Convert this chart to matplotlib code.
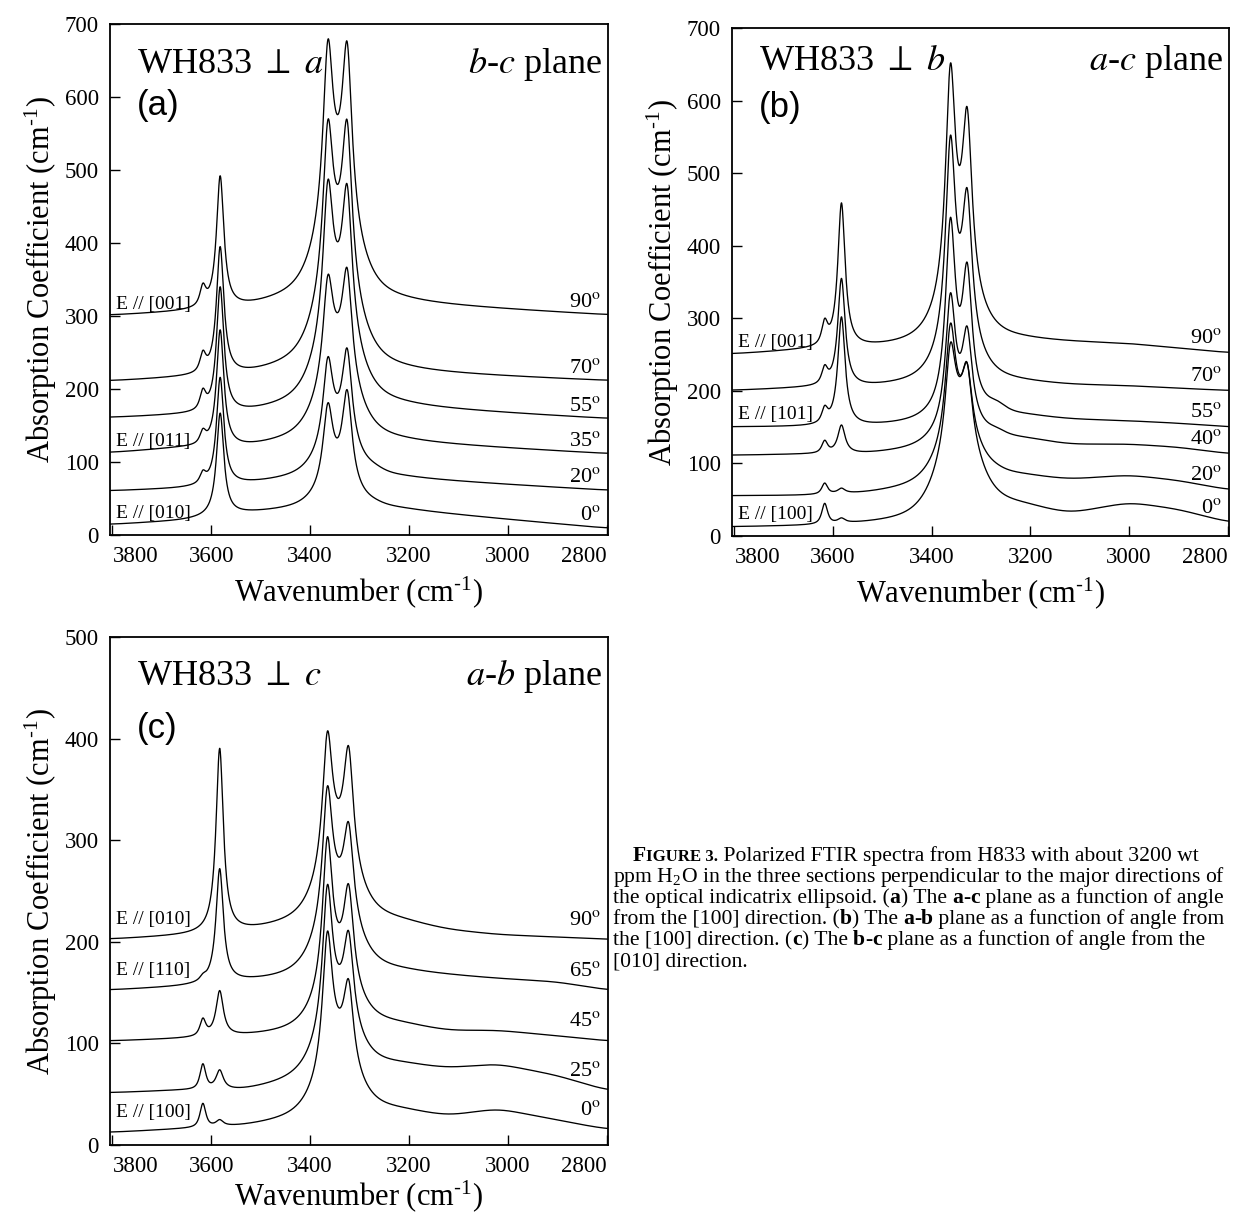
import numpy as np
import matplotlib
matplotlib.use('Agg')
import matplotlib.pyplot as plt

plt.rcParams['font.family'] = ['Liberation Serif', 'DejaVu Serif']
plt.rcParams['mathtext.fontset'] = 'stix'

# ---- data ----
# values at the OH band positions: [3617 shoulder, 3582, doublet 1, doublet 2, dip, 3268 shoulder]
band_w = [7, 9, 12, 12, 45, 22]       # half widths (cm-1)
band_eta = [0.8, 1.0, 1.0, 1.0, 0.7, 0.5]

a_angles = [90, 70, 55, 35, 20, 0]
a_pos = [3617, 3582, 3364, 3325, 3345, 3268]
a_knot_wn = [3805, 3660, 3540, 3450, 3220, 2797]
a_base = [
    [300, 304, 308, 316, 316, 301],
    [210, 214, 216, 223, 222, 211],
    [160, 163, 164, 170, 174, 159],
    [112, 118, 117, 123, 126, 111],
    [60, 63, 68, 73, 77, 61],
    [14, 19, 28, 32, 34, 9],
]
a_peaks = [
    [345, 492, 678, 674, 575, 333],
    [253, 395, 568, 566, 479, 231],
    [201, 340, 486, 479, 401, 190],
    [146, 281, 356, 365, 304, 143],
    [89, 216, 244, 256, 194, 98],
    [30, 167, 181, 199, 133, 50],
]
a_elabels = {0: 'E // [001]', 3: 'E // [011]', 5: 'E // [010]'}

b_angles = [90, 70, 55, 40, 20, 0]
b_pos = [3617, 3583, 3362, 3328, 3345, 3268]
b_knot_wn = [3805, 3660, 3540, 3450, 3220, 3120, 3000, 2900, 2797]
b_base = [
    [250, 255, 257, 260, 268, 266, 264, 258, 252],
    [200, 203, 203, 206, 210, 207, 206, 203, 200],
    [150, 150, 150, 153, 165, 160, 158, 155, 150],
    [111, 112, 112, 116, 133, 125, 126, 122, 113],
    [55, 55, 57, 62, 80, 76, 83, 76, 63],
    [12, 13, 15, 17, 38, 28, 45, 36, 18],
]
b_peaks = [
    [300, 459, 651, 590, 511, 280],
    [236, 355, 552, 479, 419, 229],
    [180, 302, 439, 377, 318, 187],
    [132, 153, 335, 289, 253, 150],
    [73, 66, 293, 238, 224, 100],
    [45, 25, 266, 238, 220, 56],
]
b_elabels = {0: 'E // [001]', 2: 'E // [101]', 5: 'E // [100]'}

c_angles = [90, 65, 45, 25, 0]
c_pos = [3617, 3583, 3365, 3322, 3344, 3268]
c_knot_wn = [3805, 3660, 3540, 3450, 3220, 3120, 3020, 2900, 2797]
c_base = [
    [202, 205, 208, 213, 218, 210, 206, 204, 202],
    [152, 155, 159, 161, 169, 166, 163, 160, 152],
    [102, 104, 106, 108, 117, 111, 112, 107, 102],
    [51, 53, 52, 58, 77, 74, 79, 68, 53],
    [12, 15, 17, 21, 32, 27, 35, 24, 15],
]
c_peaks = [
    [207, 390, 407, 392, 341, 231],
    [169, 272, 353, 317, 284, 179],
    [125, 152, 303, 256, 220, 123],
    [80, 74, 256, 210, 179, 83],
    [41, 25, 210, 162, 136, 34],
]
c_elabels = {0: 'E // [010]', 1: 'E // [110]', 4: 'E // [100]'}

wn = np.linspace(3805, 2797, 3000)
step = (wn[0] - wn[-1]) / (len(wn) - 1)


def profile(x, c, g, eta):
    d = ((np.asarray(x, dtype=float) - c) / g) ** 2
    return eta / (1 + d) + (1 - eta) * np.exp(-np.log(2) * d)


def baseline(knot_wn, base, x):
    kx = np.array(knot_wn[::-1], dtype=float)
    ky = np.array(base[::-1], dtype=float)
    return np.interp(x, kx, ky)


def smooth(y, sigma):
    # soften the corners of the piecewise baseline
    n = int(3 * sigma / step)
    k = np.exp(-0.5 * (np.arange(-n, n + 1) * step / sigma) ** 2)
    k /= k.sum()
    yp = np.concatenate([np.full(n, y[0]), y, np.full(n, y[-1])])
    return np.convolve(yp, k, mode='valid')


def spectrum(knot_wn, base, pos, peaks):
    M = np.array([[profile(p, c, g, e) for c, g, e in zip(pos, band_w, band_eta)] for p in pos])
    rhs = np.array(peaks, dtype=float) - baseline(knot_wn, base, np.array(pos, dtype=float))
    amp = np.linalg.lstsq(M, rhs, rcond=None)[0]
    amp = np.clip(amp, 0, None)
    y = smooth(baseline(knot_wn, base, wn), 25)
    for A, c, g, e in zip(amp, pos, band_w, band_eta):
        y = y + A * profile(wn, c, g, e)
    return y


fig = plt.figure(figsize=(12.4, 12.17), dpi=100)
W, H = 1240.0, 1217.0
unit = 'cm$^{\\mathrm{\u2010}\\mathregular{1}}$'


def panel(box, ymax, angles, knot_wn, base, pos, peaks, elabels, perp, plane, tag,
          txt_y, tag_y, off_l, off_r, xpad):
    l, t, r, b = box
    ax = fig.add_axes([l / W, 1 - b / H, (r - l) / W, (b - t) / H])
    for i, ang in enumerate(angles):
        y = spectrum(knot_wn, base[i], pos, peaks[i])
        ax.plot(wn, y, color='black', lw=0.95)
        ax.annotate('%d$^{\\rm o}$' % ang, xy=(2812, base[i][-1]), xytext=(0, off_r),
                    textcoords='offset pixels', ha='right', va='bottom', fontsize=16)
        if i in elabels:
            ax.annotate(elabels[i], xy=(3792, base[i][0]), xytext=(0, off_l),
                        textcoords='offset pixels', ha='left', va='bottom', fontsize=14)
    ax.set_xlim(3805, 2797)
    ax.set_ylim(0, ymax)
    ax.set_xticks([3800, 3600, 3400, 3200, 3000, 2800])
    ax.set_yticks(range(0, ymax + 1, 100))
    ax.tick_params(direction='in', length=7, width=1, labelsize=16.5, pad=8)
    labs = ax.get_xticklabels()
    labs[0].set_ha('left')
    labs[-1].set_ha('right')
    for s in ax.spines.values():
        s.set_linewidth(1.3)
    ax.set_xlabel('Wavenumber (%s)' % unit, fontsize=22, labelpad=xpad)
    ax.set_ylabel('Absorption Coefficient (%s)' % unit, fontsize=22, labelpad=4)
    ax.text(0.054, txt_y, 'WH833 $\\perp$ $%s$' % perp, transform=ax.transAxes,
            fontsize=26, ha='left', va='baseline')
    ax.text(0.988, txt_y, '$%s$-$%s$ plane' % plane, transform=ax.transAxes,
            fontsize=26, ha='right', va='baseline')
    ax.text(0.054, tag_y, '(%s)' % tag, transform=ax.transAxes, fontsize=25,
            family='Liberation Sans', ha='left', va='baseline')
    return ax


panel((110, 24, 608, 535), 700, a_angles, a_knot_wn, a_base, a_pos, a_peaks, a_elabels,
      'a', ('b', 'c'), 'a', 0.904, 0.822, 3, 3, 5)
panel((732, 28, 1229, 536), 700, b_angles, b_knot_wn, b_base, b_pos, b_peaks, b_elabels,
      'b', ('a', 'c'), 'b', 0.917, 0.825, 4, 5, 5)
panel((110, 637, 608, 1145), 500, c_angles, c_knot_wn, c_base, c_pos, c_peaks, c_elabels,
      'c', ('a', 'b'), 'c', 0.906, 0.801, 12, 10, 1)

# ---- caption ----
renderer = fig.canvas.get_renderer()


def rich_line(x, y, segs):
    for s, bold, size in segs:
        t = fig.text(x / W, 1 - y / H, s, fontsize=size, ha='left', va='baseline',
                     fontweight='bold' if bold else 'normal')
        x += t.get_window_extent(renderer).width


cs = 15.6
rich_line(633, 861, [('F', True, cs), ('IGURE 3.', True, cs - 3.5),
                     (' Polarized FTIR spectra from H833 with about 3200 wt', False, cs)])
rich_line(613, 882, [('ppm H$_\\mathregular{2}$O in the three sections perpendicular to the major directions of',
                      False, cs)])
rich_line(613, 903, [('the optical indicatrix ellipsoid. (', False, cs), ('a', True, cs), (') The ', False, cs),
                     ('a', True, cs), ('-', False, cs), ('c', True, cs),
                     (' plane as a function of angle', False, cs)])
rich_line(613, 924, [('from the [100] direction. (', False, cs), ('b', True, cs), (') The ', False, cs),
                     ('a', True, cs), ('-', False, cs), ('b', True, cs),
                     (' plane as a function of angle from', False, cs)])
rich_line(613, 945, [('the [100] direction. (', False, cs), ('c', True, cs), (') The ', False, cs),
                     ('b', True, cs), ('-', False, cs), ('c', True, cs),
                     (' plane as a function of angle from the', False, cs)])
rich_line(613, 966, [('[010] direction.', False, cs)])

fig.savefig('out.png', dpi=100)
